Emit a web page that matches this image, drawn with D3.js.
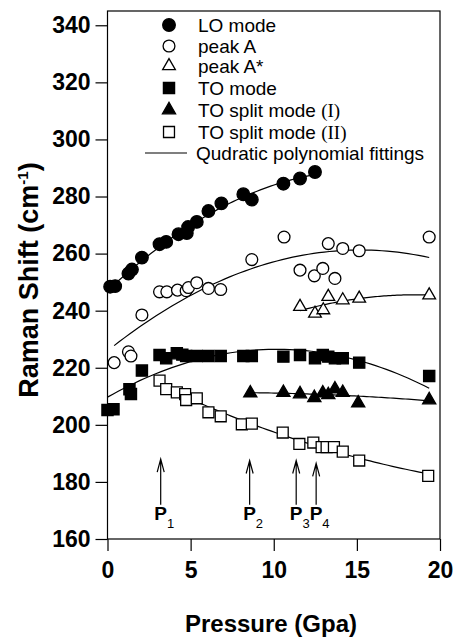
<!DOCTYPE html>
<html>
<head>
<meta charset="utf-8">
<script src="https://cdn.jsdelivr.net/npm/d3@7"></script>
<style>
body { margin: 0; background: #fff; }
text { font-family: "Liberation Sans", Arial, sans-serif; fill: #000; }
</style>
</head>
<body>
<div id="chart"></div>
<script>
// values (pressure in GPa, shift in cm-1)
const loX = [0.16, 0.46, 1.26, 1.47, 2.07, 3.13, 3.53, 4.27, 4.77, 4.85, 5.37, 6.07, 6.85, 8.17, 8.68, 10.58, 11.58, 12.48];
const loY = [248.4, 248.6, 253.0, 254.4, 258.6, 263.3, 264.1, 266.8, 267.2, 269.3, 271.1, 274.9, 277.6, 280.8, 278.9, 284.5, 286.3, 288.6];

const peakAX = [0.40, 1.26, 1.41, 2.07, 3.13, 3.57, 4.21, 4.73, 4.87, 5.37, 6.07, 6.81, 8.68, 10.62, 11.58, 12.44, 12.95, 13.28, 13.68, 14.15, 15.14, 19.35];
const peakAY = [221.8, 225.6, 224.1, 238.5, 246.6, 246.6, 247.2, 247.0, 248.1, 249.8, 247.8, 247.4, 257.9, 265.8, 254.2, 252.2, 254.8, 263.5, 251.3, 261.8, 261.0, 265.8];

const peakA2X = [11.58, 12.48, 12.98, 13.28, 14.15, 15.14, 19.35];
const peakA2Y = [241.4, 239.0, 240.2, 244.9, 243.7, 244.3, 245.4];

const toX = [0.0, 0.36, 1.32, 1.41, 2.07, 3.13, 3.53, 4.17, 4.5, 4.73, 5.37, 6.07, 6.81, 8.17, 8.68, 10.58, 11.58, 12.48, 12.95, 13.28, 13.68, 14.15, 15.14, 19.35];
const toY = [205.2, 205.5, 212.5, 210.8, 219.0, 224.5, 223.3, 225.1, 224.6, 224.1, 224.1, 224.1, 224.1, 224.1, 224.1, 223.9, 224.5, 223.3, 224.5, 223.9, 223.3, 223.3, 221.8, 217.1];

const split1X = [8.59, 10.58, 11.58, 12.44, 12.95, 13.28, 13.68, 14.15, 15.08, 19.35];
const split1Y = [211.1, 211.3, 210.8, 209.5, 211.1, 210.5, 212.5, 211.3, 207.6, 208.7];

const split2X = [3.13, 3.53, 4.17, 4.67, 4.73, 5.37, 6.07, 6.81, 8.08, 8.68, 10.54, 11.54, 12.38, 12.88, 13.18, 13.62, 14.15, 15.14, 19.29];
const split2Y = [215.5, 212.5, 211.4, 210.8, 208.7, 209.3, 204.4, 203.0, 200.2, 200.4, 197.3, 193.3, 193.8, 192.2, 192.2, 192.2, 190.6, 187.5, 182.1];

const xTicks = [0, 5, 10, 15, 20];
const yTicks = [160, 180, 200, 220, 240, 260, 280, 300, 320, 340];

// transition pressures marked by arrows
const arrowX = [3.2, 8.55, 11.35, 12.55];
const arrowTop = [188, 187.5, 187.5, 186.5];
const arrowBase = 172;
const arrowSub = ["1", "2", "3", "4"];

const width = 456, height = 642;
const margin = { top: 11, right: 16, bottom: 103, left: 107.5 };

const svg = d3.select("#chart").append("svg")
    .attr("width", width)
    .attr("height", height);

const x = d3.scaleLinear([0, 20], [margin.left, width - margin.right]);
const y = d3.scaleLinear([160, 345], [height - margin.bottom, margin.top]);

// least squares quadratic through a series
function quadFit(xs, ys) {
    let s = [0, 0, 0, 0, 0], t = [0, 0, 0];
    xs.forEach((xv, i) => {
        for (let k = 0; k < 5; k++) s[k] += Math.pow(xv, k);
        for (let k = 0; k < 3; k++) t[k] += ys[i] * Math.pow(xv, k);
    });
    const m = [[s[0], s[1], s[2], t[0]], [s[1], s[2], s[3], t[1]], [s[2], s[3], s[4], t[2]]];
    for (let c = 0; c < 3; c++) {
        for (let r = c + 1; r < 3; r++) {
            const f = m[r][c] / m[c][c];
            for (let k = c; k < 4; k++) m[r][k] -= f * m[c][k];
        }
    }
    const a = [0, 0, 0];
    for (let r = 2; r >= 0; r--) {
        let v = m[r][3];
        for (let k = r + 1; k < 3; k++) v -= m[r][k] * a[k];
        a[r] = v / m[r][r];
    }
    return xv => a[0] + a[1] * xv + a[2] * xv * xv;
}

const series = [
    { name: "LO mode", xs: loX, ys: loY, sym: d3.symbolCircle, size: 125, fill: "#000" },
    { name: "peak A", xs: peakAX, ys: peakAY, sym: d3.symbolCircle, size: 110, fill: "#fff" },
    { name: "peak A*", xs: peakA2X, ys: peakA2Y, sym: d3.symbolTriangle, size: 70, fill: "#fff" },
    { name: "TO mode", xs: toX, ys: toY, sym: d3.symbolSquare, size: 125, fill: "#000" },
    { name: "TO split mode ", roman: "(I)", xs: split1X, ys: split1Y, sym: d3.symbolTriangle, size: 75, fill: "#000" },
    { name: "TO split mode ", roman: "(II)", xs: split2X, ys: split2Y, sym: d3.symbolSquare, size: 120, fill: "#fff" }
];

// fitted curves
const line = d3.line().x(d => x(d[0])).y(d => y(d[1]));
series.forEach(s => {
    const f = quadFit(s.xs, s.ys);
    const [lo, hi] = d3.extent(s.xs);
    const pts = d3.range(0, 61).map(i => {
        const xv = lo + (hi - lo) * i / 60;
        return [xv, f(xv)];
    });
    svg.append("path")
        .attr("d", line(pts))
        .attr("fill", "none")
        .attr("stroke", "#000")
        .attr("stroke-width", 1.2);
});

// points
series.forEach(s => {
    svg.append("g")
        .selectAll("path")
        .data(s.xs.map((xv, i) => [xv, s.ys[i]]))
        .join("path")
        .attr("transform", d => `translate(${x(d[0])},${y(d[1])})`)
        .attr("d", d3.symbol(s.sym, s.size))
        .attr("fill", s.fill)
        .attr("stroke", "#000")
        .attr("stroke-width", 1.3);
});

// frame + axes
svg.append("rect")
    .attr("x", x(0)).attr("y", margin.top)
    .attr("width", x(20) - x(0)).attr("height", y(160) - margin.top)
    .attr("fill", "none").attr("stroke", "#000").attr("stroke-width", 1.2);

const xAxis = svg.append("g")
    .attr("transform", `translate(0,${y(160)})`)
    .call(d3.axisBottom(x).tickValues(xTicks).tickSize(12).tickPadding(11));
const yAxis = svg.append("g")
    .attr("transform", `translate(${x(0)},0)`)
    .call(d3.axisLeft(y).tickValues(yTicks).tickSize(12).tickPadding(5));

[xAxis, yAxis].forEach(g => {
    g.select(".domain").remove();
    g.selectAll("line").attr("stroke", "#000").attr("stroke-width", 1.2);
    g.selectAll("text")
        .attr("font-family", "Liberation Sans, Arial, sans-serif")
        .attr("font-size", 23)
        .attr("font-weight", "bold")
        .attr("fill", "#000");
});

svg.append("text")
    .attr("x", 271).attr("y", 632)
    .attr("text-anchor", "middle")
    .attr("font-size", 24).attr("font-weight", "bold")
    .text("Pressure (Gpa)");

const yt = svg.append("text")
    .attr("transform", "translate(38,280) rotate(-90)")
    .attr("text-anchor", "middle")
    .attr("font-size", 27).attr("font-weight", "bold");
yt.append("tspan").text("Raman Shift (cm");
yt.append("tspan").attr("dy", -10).attr("font-size", 15).text("-1");
yt.append("tspan").attr("dy", 10).text(")");

// legend
const legY = [25, 46, 66, 88, 110, 132, 153];
series.forEach((s, i) => {
    svg.append("path")
        .attr("transform", `translate(169,${legY[i]})`)
        .attr("d", d3.symbol(s.sym, s.size))
        .attr("fill", s.fill)
        .attr("stroke", "#000")
        .attr("stroke-width", 1.3);
    const t = svg.append("text")
        .attr("x", 198).attr("y", legY[i] + 7)
        .attr("font-size", 19);
    t.append("tspan").text(s.name);
    if (s.roman) t.append("tspan").attr("font-family", "Liberation Serif, serif").text(s.roman);
});
svg.append("line")
    .attr("x1", 145).attr("x2", 187)
    .attr("y1", legY[6]).attr("y2", legY[6])
    .attr("stroke", "#000").attr("stroke-width", 1.2);
svg.append("text")
    .attr("x", 196).attr("y", legY[6] + 7)
    .attr("font-size", 19)
    .text("Qudratic polynomial fittings");

// arrows with labels
arrowX.forEach((ax, i) => {
    const px = x(ax), top = y(arrowTop[i]), bot = y(arrowBase);
    svg.append("path")
        .attr("d", `M${px},${bot}L${px},${top}M${px - 3.5},${top + 13}L${px},${top}L${px + 3.5},${top + 13}`)
        .attr("fill", "none").attr("stroke", "#000").attr("stroke-width", 1.2);
    const t = svg.append("text")
        .attr("x", px - 6.5).attr("y", 520)
        .attr("font-size", 19).attr("font-weight", "bold");
    t.append("tspan").text("P");
    t.append("tspan").attr("dy", 8).attr("font-size", 13).attr("font-weight", "normal").text(arrowSub[i]);
});
</script>
</body>
</html>
